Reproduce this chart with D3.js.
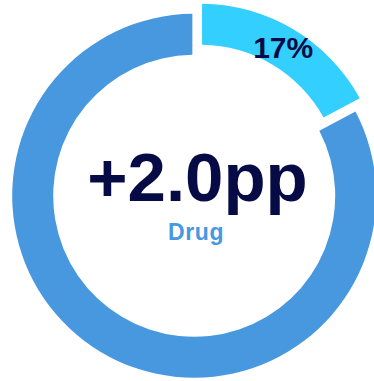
<!DOCTYPE html>
<html>
<head>
<meta charset="utf-8">
<script src="https://cdn.jsdelivr.net/npm/d3@7"></script>
<style>
  html, body { margin: 0; padding: 0; background: #ffffff; }
  svg { display: block; font-family: "Liberation Sans", Arial, Helvetica, sans-serif; }
</style>
</head>
<body>
<svg id="chart" width="374" height="381"></svg>
<script>
// Share of the ring: highlighted segment first, remainder after it
const categories = ["Drug", "Other"];
const shares = [17, 83];
const sliceLabels = ["17%", ""];
const centerValue = "+2.0pp";
const centerCaption = "Drug";

const colors = d3.scaleOrdinal()
  .domain(categories)
  .range(["#33CFFF", "#4898E0"]);

const width = 374, height = 381;
const cx = 194.2, cy = 195.8;
const outerR = 182, innerR = 141;
const pull = 11.7;   // outward shift of the highlighted segment

const svg = d3.select("#chart");
const g = svg.append("g").attr("transform", `translate(${cx},${cy})`);

const pie = d3.pie()
  .value((d, i) => shares[i])
  .sort(null)
  .startAngle(0)
  .endAngle(2 * Math.PI)
  .padAngle(0.016);

const arc = d3.arc().innerRadius(innerR).outerRadius(outerR);

const arcs = pie(categories);

const slice = g.selectAll("g.slice")
  .data(arcs)
  .join("g")
  .attr("class", "slice")
  .attr("transform", (d, i) => {
    if (i !== 0) return null;
    const mid = (d.startAngle + d.endAngle) / 2;
    return `translate(${Math.sin(mid) * pull},${-Math.cos(mid) * pull})`;
  });

slice.append("path")
  .attr("d", arc)
  .attr("fill", d => colors(d.data));

slice.append("text")
  .attr("transform", d => `translate(${arc.centroid(d)})`)
  .attr("text-anchor", "middle")
  .attr("dy", "0.36em")
  .attr("font-size", 30)
  .attr("font-weight", 700)
  .attr("fill", "#070B45")
  .text((d, i) => sliceLabels[i]);

// Centre annotation
svg.append("text")
  .attr("x", 197.5)
  .attr("y", 201)
  .attr("text-anchor", "middle")
  .attr("font-size", 69)
  .attr("font-weight", 700)
  .attr("fill", "#070B45")
  .text(centerValue);

svg.append("text")
  .attr("x", 196)
  .attr("y", 240)
  .attr("text-anchor", "middle")
  .attr("font-size", 23)
  .attr("font-weight", 700)
  .attr("letter-spacing", 0.6)
  .attr("fill", "#4898E0")
  .text(centerCaption);
</script>
</body>
</html>
